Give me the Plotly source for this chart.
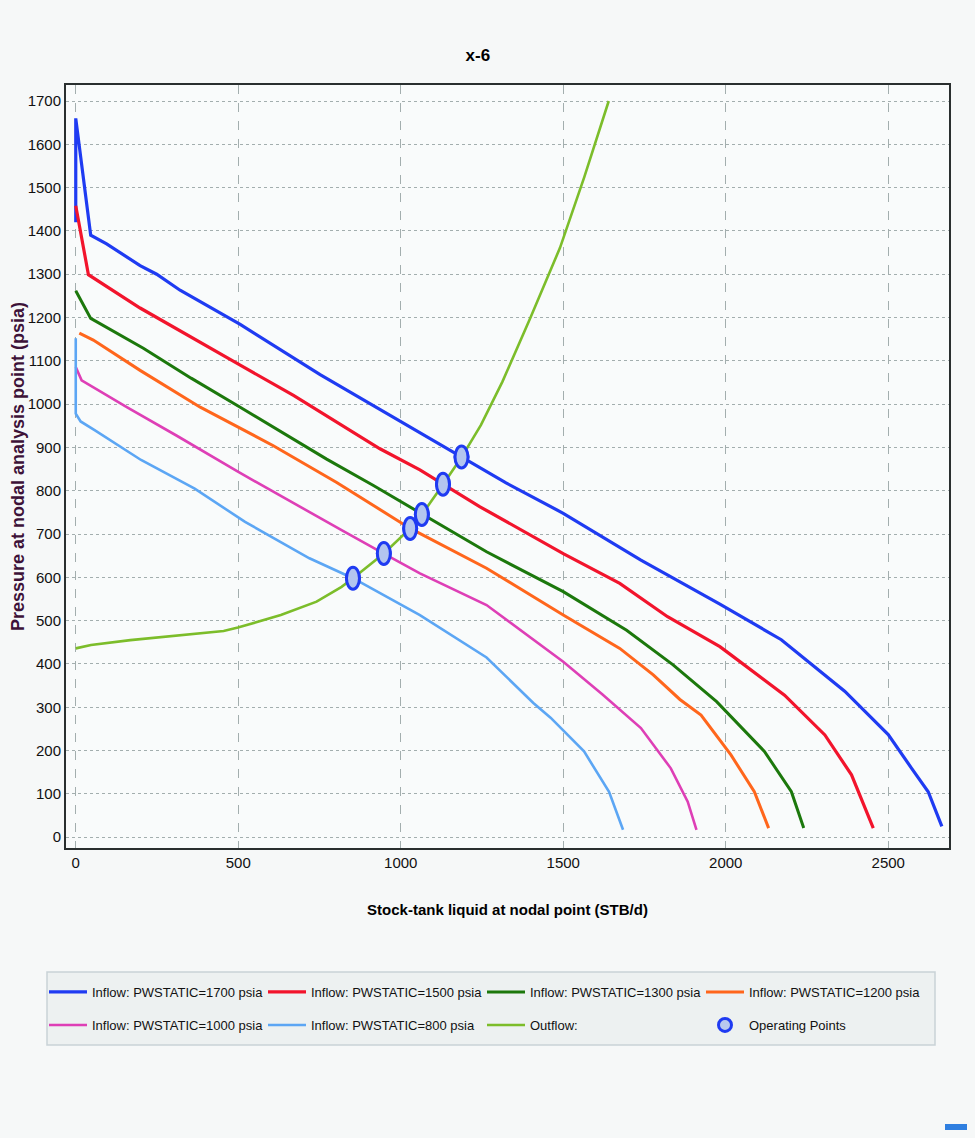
import plotly.graph_objects as go

# inflow curves
q_1700 = [0, 0, 46, 95, 198, 249, 321, 506, 752, 957, 1162, 1187, 1324, 1500, 1739, 1982, 2171, 2366, 2500, 2572, 2623, 2665]
p_1700 = [1420, 1660, 1390, 1370, 1320, 1300, 1263, 1184, 1068, 979, 889, 878, 818, 748, 640, 538, 456, 337, 237, 159, 105, 25]

q_1500 = [0, 39, 198, 383, 506, 670, 936, 1059, 1131, 1244, 1500, 1674, 1821, 1982, 2016, 2181, 2305, 2387, 2454]
p_1500 = [1458, 1299, 1222, 1144, 1090, 1020, 897, 848, 815, 763, 655, 586, 509, 440, 421, 328, 236, 144, 21]

q_1300 = [0, 46, 208, 355, 506, 772, 916, 1069, 1264, 1500, 1695, 1838, 1972, 2119, 2202, 2240]
p_1300 = [1262, 1198, 1129, 1060, 993, 873, 812, 744, 659, 567, 478, 398, 313, 198, 105, 21]

q_1200 = [11, 54, 198, 383, 608, 803, 1029, 1264, 1500, 1674, 1777, 1859, 1924, 2016, 2088, 2132]
p_1200 = [1164, 1148, 1078, 993, 904, 819, 713, 621, 513, 436, 375, 318, 282, 190, 105, 21]

q_1000 = [0, 18, 157, 311, 499, 653, 818, 948, 1059, 1264, 1500, 1620, 1739, 1831, 1883, 1910]
p_1000 = [1086, 1055, 993, 927, 844, 778, 709, 655, 609, 536, 405, 330, 252, 159, 82, 17]

q_800 = [0, 0, 15, 58, 201, 366, 521, 719, 853, 1059, 1264, 1408, 1461, 1564, 1641, 1684]
p_800 = [1152, 978, 960, 940, 871, 805, 728, 644, 598, 513, 415, 310, 276, 198, 105, 17]

# outflow curve
q_out = [0, 47, 168, 455, 499, 631, 741, 818, 853, 948, 1029, 1065, 1129, 1186, 1247, 1313, 1398, 1490, 1565, 1640]
p_out = [436, 444, 455, 476, 484, 513, 544, 578, 598, 655, 713, 745, 813, 876, 952, 1052, 1198, 1361, 1525, 1700]

# operating points
q_op = [853, 948, 1029, 1065, 1130, 1187]
p_op = [598, 655, 713, 745, 815, 878]

inflows = [
    ("Inflow: PWSTATIC=1700 psia", q_1700, p_1700, "#1f3bf2", 3.2, "legend"),
    ("Inflow: PWSTATIC=1500 psia", q_1500, p_1500, "#f2142c", 3.2, "legend"),
    ("Inflow: PWSTATIC=1300 psia", q_1300, p_1300, "#1c780c", 3.0, "legend"),
    ("Inflow: PWSTATIC=1200 psia", q_1200, p_1200, "#ff661c", 3.0, "legend"),
    ("Inflow: PWSTATIC=1000 psia", q_1000, p_1000, "#de3fb6", 2.6, "legend2"),
    ("Inflow: PWSTATIC=800 psia", q_800, p_800, "#5ca6f4", 2.6, "legend2"),
]

FONT = "Liberation Sans, Arial, sans-serif"
BG = "#f6f8f8"


# page pixel -> paper coords (plot area 66..949 x 85..848 on the page)
def px(x):
    return (x - 66) / 883


def py(y):
    return (848 - y) / 763


fig = go.Figure()
for name, q, p, color, w, lg in inflows:
    fig.add_trace(go.Scatter(x=q, y=p, mode="lines", name=name, legend=lg,
                             line=dict(color=color, width=w)))
fig.add_trace(go.Scatter(x=q_out, y=p_out, mode="lines", name="Outflow:", legend="legend2",
                         line=dict(color="#7cbd2a", width=2.6)))
fig.add_trace(go.Scatter(x=q_op, y=p_op, mode="markers", name="Operating Points", legend="legend2",
                         marker=dict(symbol="circle", size=13, color="#b9c9ee",
                                     line=dict(color="#1f3bf2", width=3))))

# operating points are drawn as tall ellipses on top of the markers
for q, p in zip(q_op, p_op):
    fig.add_shape(type="circle", xref="x", yref="y", layer="above",
                  xsizemode="pixel", ysizemode="pixel", xanchor=q, yanchor=p,
                  x0=-6.5, x1=6.5, y0=-11, y1=11,
                  fillcolor="#b3c5ef", line=dict(color="#1f3bf2", width=3))

legend_style = dict(
    orientation="h", xanchor="left", yanchor="middle", x=px(44),
    entrywidth=166, bgcolor="rgba(0,0,0,0)", borderwidth=0,
    font=dict(family=FONT, size=13, color="#111111"),
    itemwidth=38, tracegroupgap=0,
)

# page body has an 8px margin, so the figure is drawn 16px smaller
fig.update_layout(
    width=959, height=1122,
    margin=dict(l=58, r=18, t=77, b=282),
    paper_bgcolor=BG,
    plot_bgcolor="#f9fbfb",
    font=dict(family=FONT, size=15, color="#111111"),
    title=dict(text="<b>x-6</b>", x=0.49, xanchor="center", y=0.958, yanchor="middle",
               font=dict(family=FONT, size=17, color="#000000")),
    xaxis=dict(
        range=[-30, 2687], tickvals=[0, 500, 1000, 1500, 2000, 2500],
        showgrid=True, gridcolor="#a3aeae", griddash="dash", gridwidth=1,
        zeroline=False, showline=True, linecolor="#2a2f2f", linewidth=2, mirror=True,
        tickfont=dict(size=15), automargin=False,
        title=dict(text="<b>Stock-tank liquid at nodal point (STB/d)</b>", standoff=34,
                   font=dict(size=15, color="#000000")),
    ),
    yaxis=dict(
        range=[-25, 1737], tickvals=list(range(0, 1701, 100)),
        showgrid=True, gridcolor="#a3aeae", griddash="dot", gridwidth=1.4,
        zeroline=False, showline=True, linecolor="#2a2f2f", linewidth=2, mirror=True,
        tickfont=dict(size=15), automargin=False,
        title=dict(text="<b>Pressure at nodal analysis point (psia)</b>", standoff=0,
                   font=dict(size=18, color="#3d1238")),
    ),
    legend=dict(legend_style, y=py(992)),
    legend2=dict(legend_style, y=py(1025)),
    showlegend=True,
)

# legend frame
fig.add_shape(type="rect", xref="paper", yref="paper", layer="below",
              x0=px(47), x1=px(935), y0=py(1045), y1=py(972),
              fillcolor="#edf1f1", line=dict(color="#c9d2d6", width=1.5))

fig.add_shape(type="rect", xref="paper", yref="paper",
              x0=px(945), x1=px(968), y0=py(1130), y1=py(1124),
              fillcolor="#2f7fe0", line=dict(width=0))

fig.write_html("out.html", post_script="document.body.style.background='%s';" % BG)
